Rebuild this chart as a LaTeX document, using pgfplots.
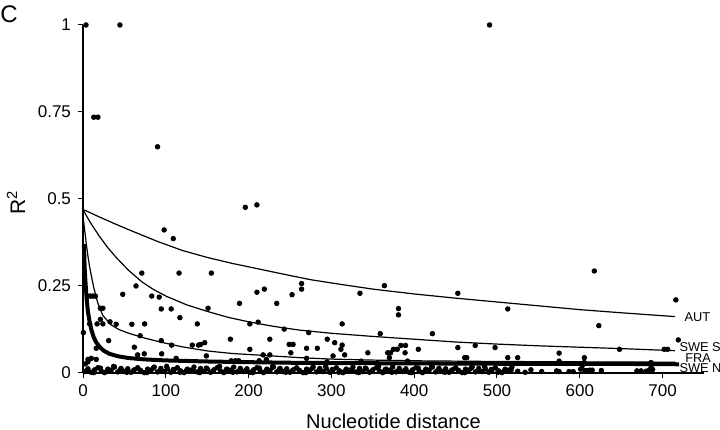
\documentclass[border=0pt]{standalone}
\usepackage{fontspec}
\setmainfont{Liberation Sans}
\usepackage{pgfplots}
\pgfplotsset{compat=1.18}
\pgfplotstableread{
x y
3.6 1.0
44.6 1.0
491 1.0
13 0.735
18 0.735
90 0.650
196 0.476
210 0.483
98 0.411
109 0.386
71 0.287
116 0.287
155 0.287
64 0.250
48 0.226
210 0.232
219 0.241
264 0.257
264 0.241
252.5 0.225
334.5 0.229
364 0.251
617.6 0.293
452.7 0.229
716 0.210
623 0.136
719 0.095
648 0.068
702 0.068
706 0.068
605.5 0.044
575 0.057
575 0.034
686 0.030
513 0.184
452.7 0.073
473.7 0.079
497.7 0.073
461 0.044
463.5 0.044
513 0.044
525 0.044
381 0.185
381 0.167
313 0.141
359 0.113
422 0.113
295 0.097
304 0.087
313 0.080
311.5 0.068
316 0.052
302 0.049
344 0.058
368 0.058
371.5 0.058
375 0.068
379.5 0.068
384 0.079
389.5 0.079
389 0.058
405 0.068
370 0.044
336 0.034
392 0.034
294.6 0.032
151 0.186
189 0.200
234 0.200
201.5 0.141
211.5 0.146
243 0.126
272.6 0.116
142 0.082
178 0.097
225.6 0.097
249 0.082
253.7 0.082
251 0.058
201.5 0.068
270 0.071
283 0.071
149 0.049
217.5 0.052
225.6 0.052
221.5 0.039
270 0.042
179 0.035
184 0.035
188 0.035
212.7 0.035
83 0.221
92 0.218
21 0.186
24 0.186
94.5 0.184
106.5 0.184
117 0.159
138 0.141
8 0.141
17 0.141
24 0.141
21 0.154
32.6 0.147
40 0.140
59 0.140
74.4 0.141
0.4 0.116
69 0.107
31 0.093
94.5 0.093
107 0.080
132 0.080
139.5 0.080
147 0.087
62 0.074
16 0.071
74 0.055
95 0.055
112.5 0.042
66 0.052
6 0.039
10 0.042
16 0.039
2.8 0.026
6 0.032
6 0.221
9 0.221
12 0.221
15 0.221
}\upper
\pgfplotstableread{
x y
2 0.004
6 0.012
10 0.002
14 0.009
18 0.015
22 0.006
26 0.001
30 0.011
34 0.008
38 0.017
42 0.003
46 0.013
50 0.004
54 0.012
58 0.002
62 0.009
66 0.015
70 0.006
74 0.001
78 0.011
82 0.008
86 0.017
90 0.003
94 0.013
98 0.004
102 0.012
106 0.002
110 0.009
114 0.015
118 0.006
122 0.001
126 0.011
130 0.008
134 0.017
138 0.003
142 0.013
146 0.004
150 0.012
154 0.002
158 0.009
162 0.015
166 0.006
170 0.001
174 0.011
178 0.008
182 0.017
186 0.003
190 0.013
194 0.004
198 0.012
202 0.002
206 0.009
210 0.015
214 0.006
218 0.001
222 0.011
226 0.008
230 0.017
234 0.003
238 0.013
242 0.004
246 0.012
250 0.002
254 0.009
258 0.015
262 0.006
266 0.001
270 0.011
274 0.008
278 0.017
282 0.003
286 0.013
290 0.004
294 0.012
298 0.002
302 0.009
306 0.015
310 0.006
314 0.001
318 0.011
322 0.008
326 0.017
330 0.003
334 0.013
338 0.004
342 0.012
346 0.002
350 0.009
354 0.015
358 0.006
362 0.001
366 0.011
370 0.008
374 0.017
378 0.003
382 0.013
386 0.004
390 0.012
394 0.002
398 0.009
402 0.015
406 0.006
410 0.001
414 0.011
418 0.008
422 0.017
426 0.003
430 0.013
434 0.004
438 0.012
442 0.002
446 0.009
450 0.015
454 0.006
458 0.001
462 0.011
466 0.008
470 0.017
474 0.003
478 0.013
482 0.004
486 0.012
490 0.002
494 0.009
498 0.015
502 0.006
506 0.001
510 0.011
514 0.008
518 0.017
5 0.008
13 0.001
21 0.014
29 0.005
37 0.019
45 0.010
53 0.002
61 0.007
69 0.008
77 0.001
85 0.014
93 0.005
101 0.019
109 0.010
117 0.002
125 0.007
133 0.008
141 0.001
149 0.014
157 0.005
165 0.019
173 0.010
181 0.002
189 0.007
197 0.008
205 0.001
213 0.014
221 0.005
229 0.019
237 0.010
245 0.002
253 0.007
261 0.008
269 0.001
277 0.014
285 0.005
293 0.019
301 0.010
309 0.002
317 0.007
325 0.008
333 0.001
341 0.014
349 0.005
357 0.019
365 0.010
373 0.002
381 0.007
389 0.008
397 0.001
405 0.014
413 0.005
421 0.019
429 0.010
437 0.002
445 0.007
453 0.008
461 0.001
469 0.014
477 0.005
485 0.019
493 0.010
501 0.002
509 0.007
517 0.008
525 0.005
534 0.002
541 0.009
554 0.004
572 0.006
575 0.004
587 0.004
592 0.004
601 0.011
603 0.021
606 0.007
609 0.007
612 0.008
615 0.008
626 0.007
669 0.006
674 0.006
680 0.005
684 0.009
688 0.010
686 0.021
605.5 0.030
}\band
\begin{document}
\begin{tikzpicture}
\begin{axis}[
 scale only axis, width=310.5pt, height=174pt,
 xmin=0, xmax=750, ymin=0, ymax=1,
 axis x line=bottom, axis y line=left,
 axis line style={-, line width=0.6pt},
 xtick={0,100,200,300,400,500,600,700},
 xticklabels={0,100,200,300,400,500,600,700},
 ytick={0,0.25,0.5,0.75,1},
 yticklabels={0,0.25,0.5,0.75,1},
 tick align=outside, major tick length=2.5pt,
 tick style={black, line width=0.5pt},
 ticklabel style={font=\fontsize{8.5}{10}\selectfont},
 xlabel={Nucleotide distance}, ylabel={R\textsuperscript{2}},
 xlabel style={font=\fontsize{10}{12}\selectfont, at={(rel axis cs:0.5,-0.138)}, anchor=center},
 ylabel style={font=\fontsize{10.5}{12}\selectfont, at={(rel axis cs:-0.108,0.49)}, anchor=center},
 clip=false,
]
\addplot[only marks, mark=*, mark size=1.15pt, black] table {\band};
\addplot[only marks, mark=*, mark size=1.15pt, black] table {\upper};
% AUT
\addplot[black, line width=0.6pt] coordinates {(0,0.470)(10,0.459)(20,0.448)(40,0.427)(60,0.407)(90,0.378)(120,0.352)(150,0.332)(180,0.315)(210,0.300)(240,0.285)(275,0.268)(310,0.255)(350,0.241)(400,0.227)(450,0.215)(500,0.204)(550,0.193)(600,0.182)(650,0.173)(715,0.162)};
% SWE S
\addplot[black, line width=0.6pt] coordinates {(0,0.470)(5,0.448)(10,0.428)(20,0.392)(30,0.360)(40,0.332)(55,0.295)(71,0.262)(85,0.240)(101,0.220)(125,0.196)(150,0.177)(175,0.160)(200,0.147)(230,0.134)(262,0.123)(300,0.114)(350,0.105)(400,0.097)(450,0.089)(500,0.083)(550,0.078)(600,0.074)(650,0.070)(715,0.064)};
% FRA
\addplot[black, line width=0.6pt] coordinates {(0,0.450)(2,0.410)(4,0.370)(6,0.335)(8,0.305)(10,0.280)(13,0.245)(18,0.200)(24,0.165)(34,0.138)(44,0.124)(58,0.112)(75,0.100)(95,0.088)(120,0.075)(151,0.063)(180,0.056)(221,0.050)(262,0.044)(298,0.040)(350,0.037)(400,0.035)(500,0.033)(600,0.032)(715,0.031)};
% SWE N
\addplot[black, line width=2pt] coordinates {(1,0.370)(1.5,0.340)(2,0.300)(3,0.260)(4,0.225)(5,0.198)(6,0.175)(8,0.147)(10,0.125)(13,0.102)(16,0.088)(20,0.075)(25,0.064)(32,0.055)(42,0.048)(55,0.043)(74,0.039)(100,0.036)(150,0.033)(200,0.031)(262,0.029)(350,0.028)(450,0.027)(550,0.026)(650,0.026)(720,0.025)};
\node[anchor=west, inner sep=0pt, font=\fontsize{6.4}{7}\selectfont] at (axis cs:726,0.161) {AUT};
\node[anchor=west, inner sep=0pt, font=\fontsize{6.4}{7}\selectfont] at (axis cs:720,0.075) {SWE S};
\node[anchor=west, inner sep=0pt, font=\fontsize{6.4}{7}\selectfont] at (axis cs:727,0.043) {FRA};
\node[anchor=west, inner sep=0pt, font=\fontsize{6.4}{7}\selectfont] at (axis cs:720,0.014) {SWE N};
\node[font=\fontsize{12}{14}\selectfont] at (rel axis cs:-0.119,1.032) {C};
\coordinate (bl) at (rel axis cs:-0.1337,-0.1638);
\coordinate (tr) at (rel axis cs:1.0258,1.0718);
\end{axis}
\pgfresetboundingbox
\path[use as bounding box] (bl) rectangle (tr);
\end{tikzpicture}
\end{document}
